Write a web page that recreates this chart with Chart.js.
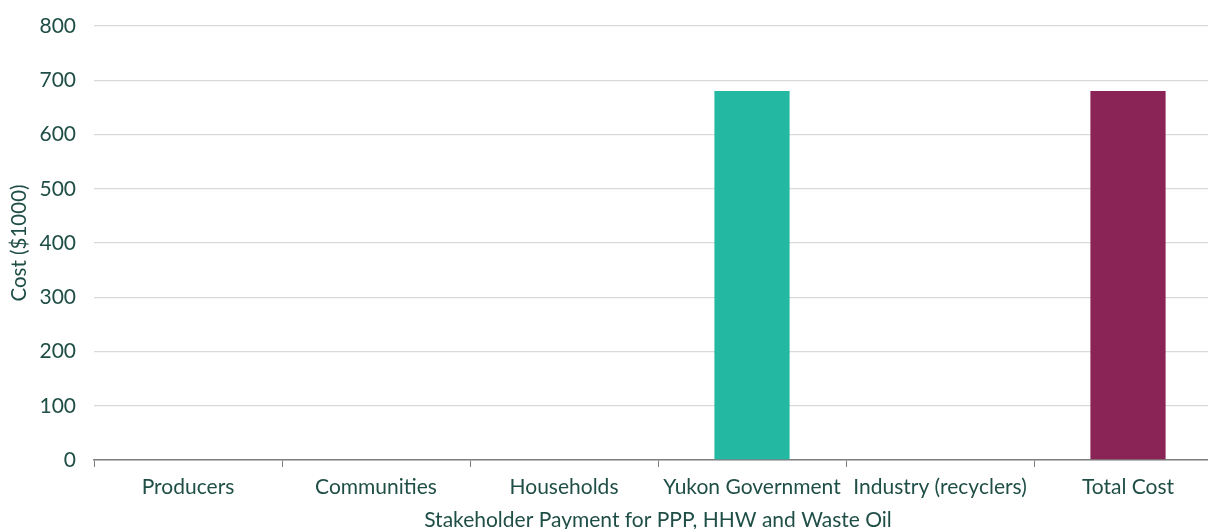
<!DOCTYPE html>
<html><head><meta charset="utf-8">
<script src="https://cdn.jsdelivr.net/npm/chart.js@4.4.0/dist/chart.umd.min.js"></script>
<style>
html,body{margin:0;padding:0;background:#fff;overflow:hidden;}
#wrap{position:relative;width:1240px;height:533px;}
</style></head>
<body><div id="wrap"><canvas id="c" width="1240" height="533"></canvas></div>
<script>
const categories = ["Producers","Communities","Households","Yukon Government","Industry (recyclers)","Total Cost"];
const costValues = [0,0,0,680,0,680];
const barColors = ["#23b8a2","#23b8a2","#23b8a2","#23b8a2","#23b8a2","#8b2456"];
const yTitle = "Cost ($1000)";
const xTitle = "Stakeholder Payment for PPP, HHW and Waste Oil";
const textColor = "#1f4e46";
new Chart(document.getElementById('c'), {
  type: 'bar',
  data: { labels: categories, datasets: [{ data: costValues, backgroundColor: barColors, borderWidth: 0, barPercentage: 0.4, categoryPercentage: 1.0 }] },
  options: {
    responsive: false, animation: false,
    layout: { padding: { top: 26, right: 18, left: 0, bottom: 0 } },
    plugins: { legend: { display: false }, tooltip: { enabled: false } },
    scales: {
      x: {
        offset: true,
        afterFit: (s) => { s.height = 73; s.paddingLeft = 0; s.paddingRight = 0; },
        grid: { offset: true, drawOnChartArea: false, drawTicks: true, tickLength: 7, color: '#7f7f7f', lineWidth: 1 },
        border: { display: true, color: '#7f7f7f', width: 1.5 },
        ticks: { color: textColor, font: { family: 'Lato', size: 21 }, padding: 8, maxRotation: 0, autoSkip: false },
        title: { display: true, text: xTitle, color: textColor, font: { family: 'Lato', size: 21 }, padding: { top: 5, bottom: 0 } }
      },
      y: {
        min: 0, max: 800,
        afterFit: (s) => { s.width = 94; s.paddingTop = 0; s.paddingBottom = 0; },
        ticks: { stepSize: 100, color: textColor, font: { family: 'Lato', size: 21 }, padding: 18 },
        grid: { color: '#d9d9d9', lineWidth: 1.3, drawTicks: false },
        border: { display: false },
        title: { display: true, text: yTitle, color: textColor, font: { family: 'Lato', size: 20.5 }, padding: { top: 7, bottom: 8 } }
      }
    }
  }
});
</script></body></html>
